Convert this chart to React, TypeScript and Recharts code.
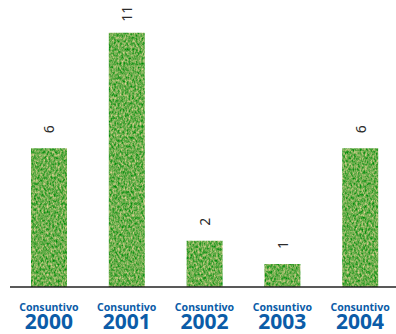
import React from "react";
import { BarChart, Bar, XAxis, YAxis, LabelList } from "recharts";

const years = ["2000", "2001", "2002", "2003", "2004"];
const consuntivo = [6, 11, 2, 1, 6];
const periodLabel = "Consuntivo";

const data = years.map((year, i) => ({ year, value: consuntivo[i] }));

const BLUE = "#0b5ca8";

function YearTick(props: any) {
  const { x, y, payload } = props;
  return (
    <g>
      <text
        x={x}
        y={y + 23.5}
        textAnchor="middle"
        fontFamily="Noto Sans"
        fontWeight={700}
        fontSize={10.5}
        fill={BLUE}
      >
        {periodLabel}
      </text>
      <text
        x={x}
        y={y + 41.5}
        textAnchor="middle"
        fontFamily="Noto Sans"
        fontWeight={700}
        fontSize={21}
        fill={BLUE}
      >
        {payload.value}
      </text>
    </g>
  );
}

function ValueLabel(props: any) {
  const { x, y, width, value } = props;
  const cx = x + width / 2;
  const cy = y - 19;
  return (
    <text
      x={cx}
      y={cy}
      transform={`rotate(-90 ${cx} ${cy})`}
      textAnchor="middle"
      dominantBaseline="central"
      fontFamily="Noto Sans"
      fontSize={14}
      fill="#2b2b2b"
    >
      {value}
    </text>
  );
}

export default function App() {
  return (
    <div style={{ position: "absolute", left: 0, top: 0, width: 396, height: 334, overflow: "hidden", background: "#fff" }}>
      <BarChart
        width={400}
        height={334}
        data={data}
        margin={{ top: 5, right: 1, left: 10, bottom: 0 }}
      >
        <defs>
          {/* grainy grass fill for the bars: green with pale yellow speckle */}
          <filter id="grass" x="0" y="0" width="100%" height="100%" colorInterpolationFilters="sRGB">
            <feTurbulence type="fractalNoise" baseFrequency="0.55 0.35" numOctaves={3} seed={7} result="noise" />
            <feGaussianBlur in="noise" stdDeviation={0.35} result="soft" />
            <feColorMatrix
              in="soft"
              type="matrix"
              values="1.3 0 0 0 -0.23
                      0.4 0 0 0 0.48
                      0.8 0 0 0 -0.1
                      0 0 0 0 1"
              result="tint"
            />
            <feComposite in="tint" in2="SourceGraphic" operator="in" />
          </filter>
        </defs>
        <YAxis hide domain={[0, 12.2]} />
        <XAxis
          dataKey="year"
          height={47}
          interval={0}
          tickLine={false}
          tickSize={0}
          tickMargin={0}
          axisLine={{ stroke: "#222", strokeWidth: 1.6 }}
          tick={<YearTick />}
        />
        <Bar dataKey="value" barSize={36} fill="#5aa94a" filter="url(#grass)" isAnimationActive={false}>
          <LabelList dataKey="value" content={<ValueLabel />} />
        </Bar>
      </BarChart>
    </div>
  );
}
